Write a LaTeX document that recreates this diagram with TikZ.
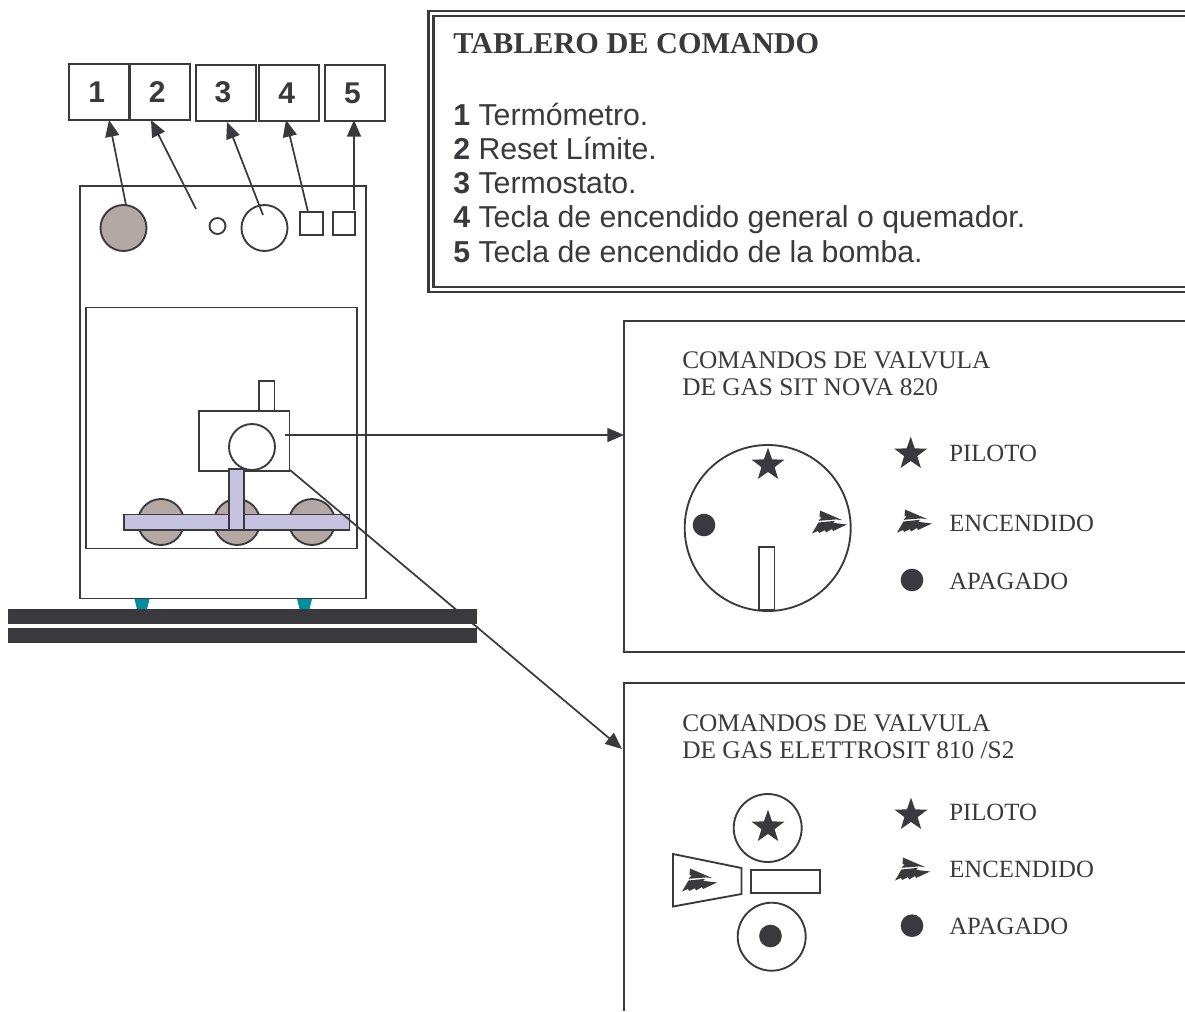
\documentclass[tikz,border=0pt]{standalone}
\usepackage{fontspec}
\setmainfont{Liberation Serif}
\newfontfamily\arialf{Liberation Sans}
\usetikzlibrary{arrows.meta,shapes.geometric}
\definecolor{ink}{HTML}{3A393D}
\definecolor{warm}{HTML}{B3A8A3}
\definecolor{lila}{HTML}{C5C3E0}
\definecolor{teal2}{HTML}{008F9E}
\tikzset{
  ln/.style={draw=ink,line width=1.4pt},
  conn/.style={draw=ink,line width=1.3pt,-{Triangle[length=12.5pt,width=10.5pt]}},
  numbox/.style={draw=ink,line width=1.5pt,minimum width=45pt,minimum height=42pt,inner sep=0pt,font=\arialf\bfseries\fontsize{22.5}{22.5}\selectfont,text=ink},
  ttl/.style={anchor=base west,inner sep=0pt,text=ink,font=\fontsize{19}{19}\selectfont},
  leg/.style={anchor=base west,inner sep=0pt,text=ink,font=\fontsize{18.6}{18.6}\selectfont},
  item/.style={anchor=base west,inner sep=0pt,text=ink,font=\arialf\fontsize{22.7}{22.7}\selectfont},
  dotm/.style={circle,fill=ink,draw=none,minimum size=17pt,inner sep=0pt},
  starm/.style={star,star points=5,star point ratio=2.5,fill=ink,draw=none,minimum size=26pt,inner sep=0pt},
  pics/bolt/.style={code={
    \fill[ink] (-9,-11.5) -- (13.5,-1.8) -- (7,-2.6) -- (-10.5,-1.2) -- (-7.5,-4.5) -- (-9.5,-5) -- cycle;
    \fill[ink] (-10.5,0.5) -- (6,-1.2) -- (4,0.8) -- (18,2.5) -- (4,9) -- (3,7) -- (-3,10.5) -- (-4,8.2) -- (-10,11) -- (-11,9) -- (-17,11.5) -- cycle;
  }}
}
\begin{document}
\begin{tikzpicture}[x=0.75pt,y=-0.75pt]
\useasboundingbox (0,0) rectangle (1185,1011);
% cabinet
\draw[ln] (80,186) rectangle (366,598.5);
\draw[ln] (86,307.5) rectangle (357,548.5);
\node[circle,ln,fill=warm,minimum size=34.5pt,inner sep=0pt] (thermo) at (123.5,228) {};
\node[circle,ln,minimum size=12pt,inner sep=0pt] (reset) at (217.5,226) {};
\node[circle,ln,minimum size=34.5pt,inner sep=0pt] (stat) at (264.5,228) {};
\node[rectangle,ln,minimum size=17pt,inner sep=0pt] (keya) at (311.5,223.5) {};
\node[rectangle,ln,minimum size=17pt,inner sep=0pt] (keyb) at (344,223.5) {};
% number boxes
\node[numbox] (n1) at (99.2,92) {\kern-3.8pt 1};
\node[numbox] (n2) at (159.8,92) {\kern-3.8pt 2};
\node[numbox] (n3) at (225.5,92.5) {\kern-3.8pt 3};
\node[numbox] (n4) at (289.2,93) {\kern-3.8pt 4};
\node[numbox] (n5) at (355,93) {\kern-3.8pt 5};
\coordinate (a1) at (126,205);
\coordinate (a2) at (196,209);
\coordinate (a3) at (263,215);
\coordinate (a4) at (308,212);
\coordinate (a5) at (354,210);
\coordinate (b1) at (109,120);
\coordinate (b2) at (151,120);
\coordinate (b3) at (227,122);
\coordinate (b4) at (286,120);
\coordinate (b5) at (354,120);
\foreach \k in {1,...,5} \draw[conn] (a\k) -- (b\k);
% valve
\draw[ln] (259,381) rectangle (274.5,411);
\draw[ln] (199,411) rectangle (289.5,471);
\node[circle,ln,fill=white,minimum size=34.5pt,inner sep=0pt] (vk) at (252,447) {};
% burners
\foreach \cx in {161,237,312} \draw[ln,fill=warm] (\cx,522) circle (23);
\draw[ln,fill=lila] (124,514.5) rectangle (349.5,530);
\draw[ln,fill=lila] (229,469) rectangle (244,530);
% feet
\fill[teal2] (134.5,599) -- (149.5,599) -- (147,609) -- (137,609) -- cycle;
\fill[teal2] (297,599) -- (312,599) -- (309.5,609) -- (299.5,609) -- cycle;
% connectors to the panels
\coordinate (va) at (285,435);
\coordinate (vb) at (290,470);
\coordinate (pa) at (624,435);
\coordinate (pb) at (622,749);
\draw[conn] (va) -- (pa);
\draw[conn] (vb) -- (pb);
% floor
\fill[ink] (8,609) rectangle (477,624);
\fill[ink] (8,628) rectangle (477,643);
% tablero
\draw[draw=ink,line width=2.1pt] (1185,11) -- (428.5,11) -- (428.5,292) -- (1185,292);
\draw[draw=ink,line width=1.6pt] (1185,16) -- (433.5,16) -- (433.5,287) -- (1185,287);
\node[ttl,font=\bfseries\fontsize{22.7}{22.7}\selectfont] (title) at (453,53) {TABLERO DE COMANDO};
\node[item] (i1) at (453,125) {\textbf{1} Termómetro.};
\node[item] (i2) at (453,159) {\textbf{2} Reset Límite.};
\node[item] (i3) at (453,193) {\textbf{3} Termostato.};
\node[item] (i4) at (453,227.5) {\textbf{4} Tecla de encendido general o quemador.};
\node[item] (i5) at (453,262) {\textbf{5} Tecla de encendido de la bomba.};
% panel A
\draw[ln] (1185,321) -- (624,321) -- (624,652) -- (1185,652);
\node[ttl] (ta1) at (682,368) {COMANDOS DE VALVULA};
\node[ttl] (ta2) at (682,395) {DE GAS SIT NOVA 820};
\draw[ln] (767.7,528) circle (83);
\node[starm] (sa) at (768,465) {};
\node[dotm] (da) at (704,525) {};
\pic at (829,522) {bolt};
\draw[ln,fill=white] (759,547) rectangle (774.5,610);
\node[starm] (la1) at (910.7,454) {};
\pic at (914,521) {bolt};
\node[dotm] (la3) at (912,580) {};
\node[leg] (ta3) at (949,461) {PILOTO};
\node[leg] (ta4) at (949,531) {ENCENDIDO};
\node[leg] (ta5) at (949,589) {APAGADO};
% panel B
\draw[ln] (1185,683) -- (624,683) -- (624,1011);
\node[ttl] (tb1) at (682,731) {COMANDOS DE VALVULA};
\node[ttl] (tb2) at (682,758) {DE GAS ELETTROSIT 810 /S2};
\draw[ln] (767.7,828) circle (34);
\node[starm] (sb) at (768,827) {};
\draw[ln] (673,854) -- (741.5,868) -- (741.5,894) -- (673,906.5) -- cycle;
\pic at (699,880) {bolt};
\draw[ln] (751,870) rectangle (820,893);
\draw[ln] (771.7,936.7) circle (34);
\node[dotm] (db) at (770.5,936) {};
\node[starm] (lb1) at (911,815) {};
\pic at (912,869) {bolt};
\node[dotm] (lb3) at (912,925.7) {};
\node[leg] (tb3) at (949,820) {PILOTO};
\node[leg] (tb4) at (949,877) {ENCENDIDO};
\node[leg] (tb5) at (949,934) {APAGADO};
\end{tikzpicture}
\end{document}
